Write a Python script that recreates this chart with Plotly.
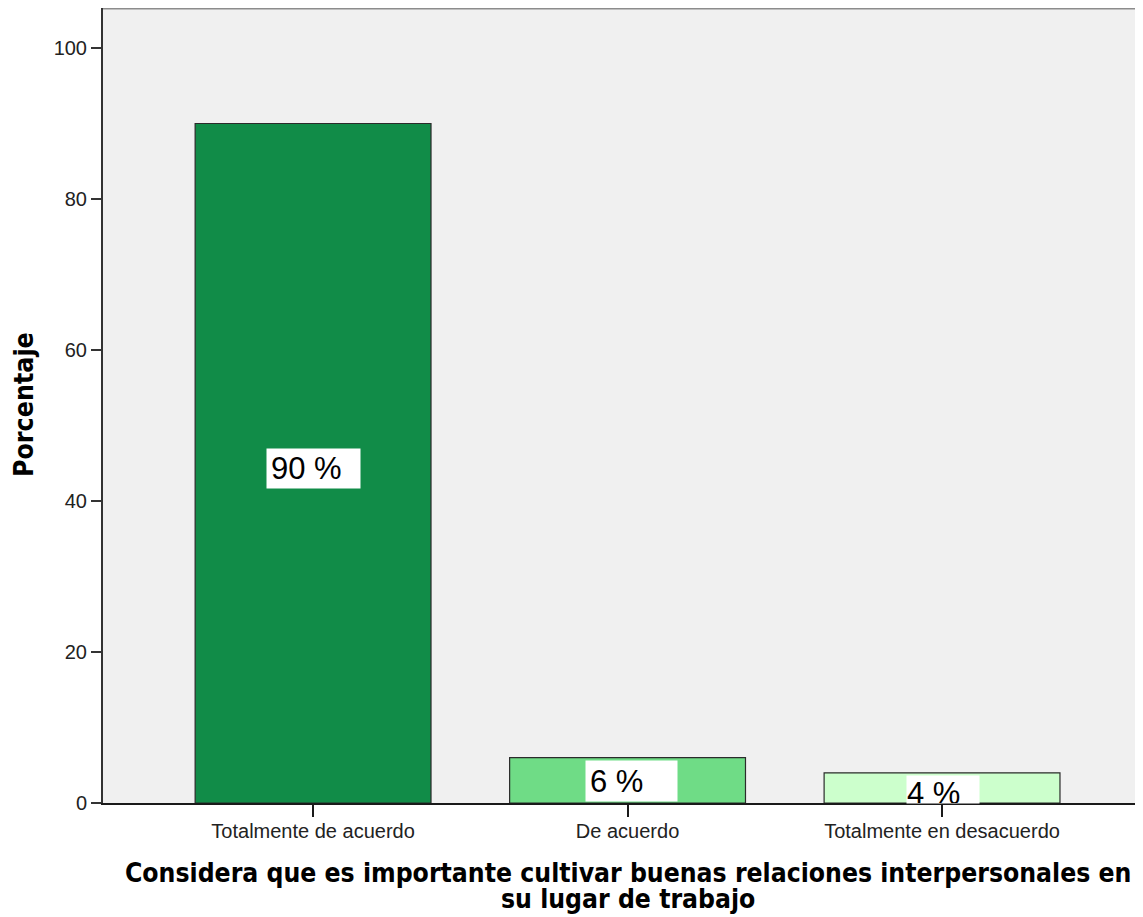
import plotly.graph_objects as go

categories = ["Totalmente de acuerdo", "De acuerdo", "Totalmente en desacuerdo"]
percent = [90, 6, 4]
labels = ["90 %", "6 %", "4 %"]
bar_colors = ["#118c48", "#6fdc86", "#ccffcc"]
y_ticks = [0, 20, 40, 60, 80, 100]
x_title_lines = ["Considera que es importante cultivar buenas relaciones interpersonales en",
                 "su lugar de trabajo"]
y_title = "Porcentaje"

FONT = "Liberation Sans, Arial, sans-serif"
TFONT = "DejaVu Sans Condensed, DejaVu Sans, sans-serif"

fig = go.Figure()
fig.add_trace(go.Bar(
    x=list(range(len(categories))),
    y=percent,
    width=0.75,
    marker=dict(color=bar_colors, line=dict(color="#2b2b2b", width=1.2)),
    hoverinfo="skip",
))

# label boxes: (xshift, yshift, width, height, valign, borderpad)
label_style = [
    (0, -5, 85, 31, "middle", 4),
    (4, -1, 83, 32, "middle", 4),
    (1, -1.5, 72, 27, "top", 0),
]
for i, (lab, v) in enumerate(zip(labels, percent)):
    xs, ys, w, h, va, bp = label_style[i]
    fig.add_annotation(
        x=i, y=v / 2, xref="x", yref="y", text=lab, showarrow=False,
        bgcolor="white", borderpad=bp, width=w, height=h, align="left", valign=va,
        font=dict(family=FONT, size=31, color="black"),
        xshift=xs, yshift=ys,
    )

# axis titles
fig.add_annotation(
    x=0, y=0.5, xref="paper", yref="paper", text=f"<b>{y_title}</b>", showarrow=False,
    textangle=-90, xanchor="center", yanchor="middle", xshift=-79.5, yshift=1,
    font=dict(family=TFONT, size=26.5, color="black"),
)
for j, line in enumerate(x_title_lines):
    fig.add_annotation(
        x=0.5048, y=0, xref="paper", yref="paper", text=f"<b>{line}</b>", showarrow=False,
        xanchor="center", yanchor="top", yshift=-53 - 26 * j,
        font=dict(family=TFONT, size=26.3, color="black"),
    )

# top border of plot area
fig.add_shape(type="line", xref="paper", yref="paper", x0=0, x1=1, y0=1, y1=1,
              line=dict(color="#8c8c8c", width=3))

fig.update_layout(
    width=1135, height=909,
    margin=dict(l=95, r=0, t=0, b=114),
    plot_bgcolor="#f0f0f0", paper_bgcolor="white",
    showlegend=False,
    font=dict(family=FONT, color="#222"),
    bargap=0.25,
)
fig.update_xaxes(
    range=[-0.668, 2.639], tickvals=list(range(len(categories))), ticktext=categories,
    showline=True, linecolor="#1a1a1a", linewidth=2, ticks="outside", ticklen=12,
    tickwidth=2, tickcolor="#1a1a1a", showgrid=False, zeroline=False,
    ticklabelstandoff=-3,
    tickfont=dict(family=FONT, size=20, color="#222"),
)
fig.update_yaxes(
    range=[0, 105.3], tickvals=y_ticks, showline=True, linecolor="#333",
    linewidth=2, ticks="outside", ticklen=10, tickwidth=2, tickcolor="#333",
    showgrid=False, zeroline=False,
    tickfont=dict(family=FONT, size=20, color="#222"),
)

fig.write_html("out.html")
